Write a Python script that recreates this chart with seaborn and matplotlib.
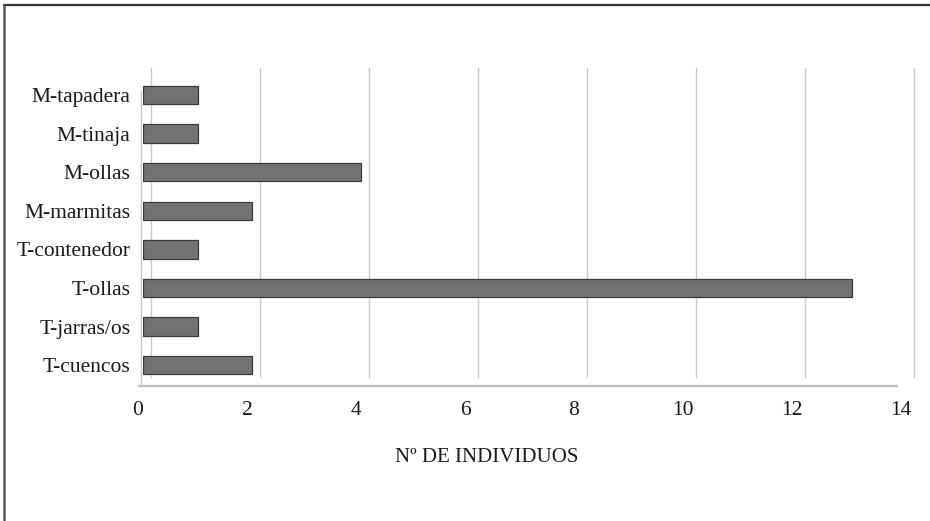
import matplotlib
matplotlib.use("Agg")
import matplotlib.pyplot as plt
import matplotlib.transforms as mtransforms
from matplotlib.lines import Line2D
import seaborn as sns
import pandas as pd

categories = ["M-tapadera", "M-tinaja", "M-ollas", "M-marmitas",
              "T-contenedor", "T-ollas", "T-jarras/os", "T-cuencos"]
values = [1, 1, 4, 2, 1, 13, 1, 2]
xticks = [0, 2, 4, 6, 8, 10, 12, 14]
xlabel = "Nº DE INDIVIDUOS"

df = pd.DataFrame({"cat": categories, "val": values})

sns.set_theme(style="white")
plt.rcParams["font.family"] = ["Liberation Serif", "DejaVu Serif"]

W, H = 930, 521
fig = plt.figure(figsize=(W / 100, H / 100), dpi=100)
fig.patch.set_facecolor("white")

left_px, right_px = 143, 906
top_px, bot_px = 68, 386
ax = fig.add_axes([left_px / W, 1 - bot_px / H,
                   (right_px - left_px) / W, (bot_px - top_px) / H])

sns.barplot(data=df, x="val", y="cat", order=categories, orient="h",
            color="#727272", edgecolor="#3c3c3c", linewidth=0.9,
            width=0.48, ax=ax, zorder=3)

ax.set_xlim(0, 14)
ax.set_ylim(7.54, -0.70)
ax.set_xticks(xticks)
ax.set_xticklabels([str(t) for t in xticks])
ax.set_xlabel("")
ax.set_ylabel("")
for s in ax.spines.values():
    s.set_visible(False)
ax.tick_params(axis="x", length=0, pad=11, labelsize=15.5, colors="#1a1a1a")
ax.tick_params(axis="y", length=0, pad=9, labelsize=15.5, colors="#1a1a1a")

shift = mtransforms.ScaledTranslation(-5 / 100, 0, fig.dpi_scale_trans)
for lab in ax.get_xticklabels():
    lab.set_transform(lab.get_transform() + shift)

# back-wall gridlines (3D offset)
grid_tr = ax.transData + mtransforms.ScaledTranslation(8 / 100, 0, fig.dpi_scale_trans)
for t in xticks:
    ax.plot([t, t], [7.3, -0.70], transform=grid_tr, color="#cacaca",
            lw=1.0, zorder=1, clip_on=False)
# front-left wall edge
ax.plot([0, 0], [7.54, -0.1], color="#c8c8c8", lw=1.0, zorder=1, clip_on=False,
        transform=ax.transData + mtransforms.ScaledTranslation(-2 / 100, 0, fig.dpi_scale_trans))
# floor line
ax.plot([0, 13.9], [7.54, 7.54], color="#bdbdbd", lw=1.6, zorder=1, clip_on=False,
        transform=ax.transData + mtransforms.ScaledTranslation(-4 / 100, 0, fig.dpi_scale_trans))

fig.text(487 / W, 1 - 458 / H, xlabel, ha="center", va="center",
         fontsize=15, color="#1a1a1a")

# frame lines (top and left)
fig.add_artist(Line2D([4 / W, 1], [1 - 5 / H, 1 - 5 / H], color="#333333", lw=1.6))
fig.add_artist(Line2D([4 / W, 4 / W], [0, 1 - 5 / H], color="#555555", lw=1.8))

fig.savefig("out.png", dpi=100, facecolor="white")
